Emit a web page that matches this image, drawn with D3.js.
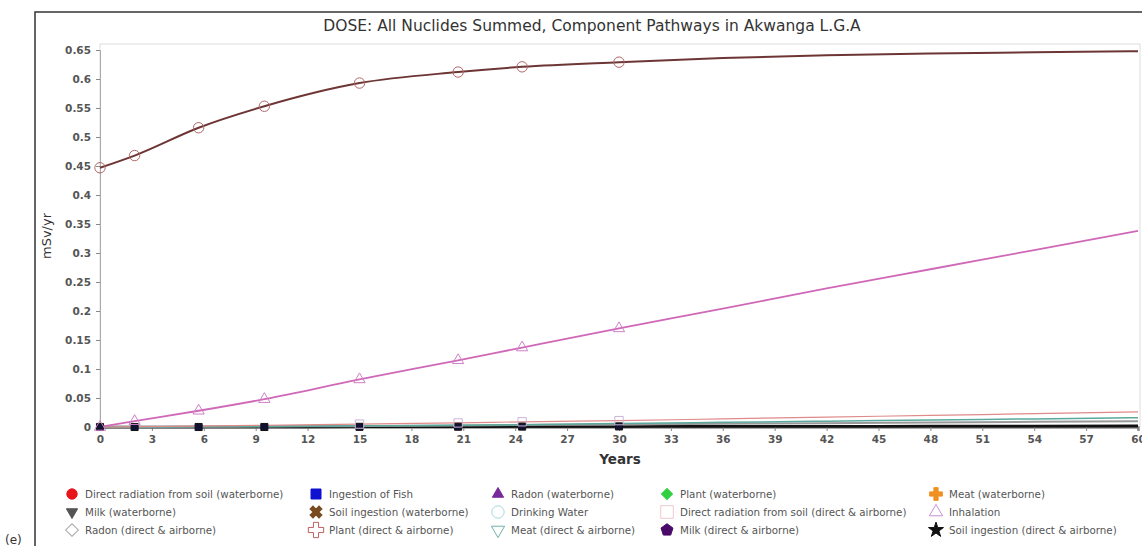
<!DOCTYPE html>
<html>
<head>
<meta charset="utf-8">
<script src="https://cdn.jsdelivr.net/npm/d3@7"></script>
<style>
  body { margin: 0; background: #fff; }
  text { font-family: "DejaVu Sans", sans-serif; }
</style>
</head>
<body>
<div id="chart"></div>
<script>
// years at which the curves are sampled
const years = [0, 2, 5.7, 9.5, 15, 20.7, 24.4, 30, 36, 42, 48, 54, 60];
// markers only shown up to 30 years
const markerCount = 8;

const totalDose = [0.447, 0.468, 0.516, 0.553, 0.593, 0.612, 0.621, 0.629, 0.636, 0.641, 0.644, 0.646, 0.648];
const inhalation = [0, 0.010, 0.028, 0.048, 0.082, 0.115, 0.137, 0.170, 0.204, 0.239, 0.272, 0.305, 0.338];
const directAir = [0, 0.0005, 0.0015, 0.003, 0.005, 0.007, 0.009, 0.011, 0.014, 0.017, 0.020, 0.023, 0.026];
const drinkingWater = [0, 0, 0.0005, 0.001, 0.002, 0.003, 0.004, 0.006, 0.008, 0.010, 0.012, 0.014, 0.016];
const plantAir = [0, 0, 0.0004, 0.0008, 0.0015, 0.0025, 0.0035, 0.0045, 0.0055, 0.0065, 0.0078, 0.009, 0.010];
const soilAir = [0, 0, 0, 0, 0.0003, 0.0005, 0.0007, 0.001, 0.0012, 0.0014, 0.0016, 0.0018, 0.002];

const xTicks = d3.range(0, 61, 3);
const yTicks = d3.range(0, 0.651, 0.05);

const legendLabels = [
  "Direct radiation from soil (waterborne)", "Ingestion of Fish", "Radon (waterborne)", "Plant (waterborne)", "Meat (waterborne)",
  "Milk (waterborne)", "Soil ingestion (waterborne)", "Drinking Water", "Direct radiation from soil (direct & airborne)", "Inhalation",
  "Radon (direct & airborne)", "Plant (direct & airborne)", "Meat (direct & airborne)", "Milk (direct & airborne)", "Soil ingestion (direct & airborne)"
];

const W = 1142, H = 546;
const m = { left: 100, top: 44, right: 1140, bottom: 427 };

const svg = d3.select("#chart").append("svg")
  .attr("width", W).attr("height", H);

// outer frame (top and left edges visible)
svg.append("path")
  .attr("d", `M35,${H} L35,12 L${W},12`)
  .attr("fill", "none").attr("stroke", "#333").attr("stroke-width", 1.5);

svg.append("text")
  .attr("x", 5).attr("y", 544)
  .attr("font-size", 12).attr("fill", "#333")
  .text("(e)");

svg.append("text")
  .attr("x", 592).attr("y", 31)
  .attr("text-anchor", "middle")
  .attr("font-size", 15.5).attr("fill", "#333")
  .text("DOSE: All Nuclides Summed, Component Pathways in Akwanga L.G.A");

const x = d3.scaleLinear().domain([0, 60]).range([m.left, 1138]);
const y = d3.scaleLinear().domain([0, 0.65]).range([m.bottom, 50]);

// plot box
svg.append("rect")
  .attr("x", m.left).attr("y", m.top)
  .attr("width", m.right - m.left).attr("height", m.bottom - m.top)
  .attr("fill", "none").attr("stroke", "#ddd");

const xAxis = d3.axisBottom(x).tickValues(xTicks).tickSize(4).tickFormat(d3.format("d"));
const yAxis = d3.axisLeft(y).tickValues(yTicks).tickSize(4).tickFormat(d => d === 0 ? "0" : d3.format(".2~f")(d));

const gy = svg.append("g").attr("transform", `translate(${m.left},0)`).call(yAxis);
const gx = svg.append("g").attr("transform", `translate(0,${m.bottom})`).call(xAxis);
gy.select(".domain").attr("stroke", "#aaa");
gx.select(".domain").attr("stroke", "#555").attr("stroke-width", 2);
[gx, gy].forEach(g => {
  g.selectAll(".tick line").attr("stroke", "#888");
  g.selectAll(".tick text").attr("font-size", 10.5).attr("font-weight", "bold").attr("fill", "#555");
});
gy.selectAll(".tick text").attr("x", -9);
gx.selectAll(".tick text").attr("y", 9);

svg.append("text")
  .attr("transform", "translate(51,236) rotate(-90)")
  .attr("text-anchor", "middle").attr("font-size", 13).attr("fill", "#333")
  .text("mSv/yr");

svg.append("text")
  .attr("x", 620).attr("y", 464)
  .attr("text-anchor", "middle").attr("font-size", 13.5).attr("font-weight", "bold").attr("fill", "#333")
  .text("Years");

const line = d3.line()
  .x((d, i) => x(years[i]))
  .y(d => y(d))
  .curve(d3.curveMonotoneX);

const series = [
  { values: soilAir, color: "#111", width: 2.5 },
  { values: plantAir, color: "#999", width: 2 },
  { values: drinkingWater, color: "#5aa99c", width: 1.5 },
  { values: directAir, color: "#e08a8a", width: 1.2 },
  { values: inhalation, color: "#d068b8", width: 1.8 },
  { values: totalDose, color: "#6e3535", width: 2 }
];

series.forEach(s => {
  svg.append("path")
    .datum(s.values)
    .attr("d", line)
    .attr("fill", "none")
    .attr("stroke", s.color)
    .attr("stroke-width", s.width);
});

// symbol helpers
const pentagon = {
  draw(ctx, size) {
    const r = Math.sqrt(size / 2.4);
    for (let i = 0; i < 5; i++) {
      const a = -Math.PI / 2 + i * 2 * Math.PI / 5;
      i === 0 ? ctx.moveTo(r * Math.cos(a), r * Math.sin(a)) : ctx.lineTo(r * Math.cos(a), r * Math.sin(a));
    }
    ctx.closePath();
  }
};
const sym = (type, size) => d3.symbol().type(type).size(size)();

function marker(g, type, size, fill, stroke, rotate) {
  return g.append("path")
    .attr("d", sym(type, size))
    .attr("transform", rotate ? `rotate(${rotate})` : null)
    .attr("fill", fill)
    .attr("stroke", stroke)
    .attr("stroke-width", 1);
}

const markerSets = [
  { values: soilAir, type: d3.symbolSquare, size: 50, fill: "#111133", stroke: "#111" },
  { values: directAir, type: d3.symbolSquare, size: 70, fill: "none", stroke: "#c8b4d8", from: 4 },
  { values: inhalation, type: d3.symbolTriangle, size: 55, fill: "none", stroke: "#d080c8" },
  { values: totalDose, type: d3.symbolCircle, size: 85, fill: "none", stroke: "#b06868" }
];

markerSets.forEach(ms => {
  ms.values.slice(0, markerCount).forEach((v, i) => {
    if (ms.from && i < ms.from) return;
    const g = svg.append("g").attr("transform", `translate(${x(years[i])},${y(v)})`);
    marker(g, ms.type, ms.size, ms.fill, ms.stroke);
  });
});

// legend
const legendSymbols = [
  { type: d3.symbolCircle, fill: "#e8141c", stroke: "#e8141c" },
  { type: d3.symbolSquare, fill: "#1010d0", stroke: "#1010d0" },
  { type: d3.symbolTriangle, fill: "#7a2a9a", stroke: "#7a2a9a" },
  { type: d3.symbolSquare, fill: "#30d040", stroke: "#30d040", rotate: 45 },
  { type: d3.symbolCross, fill: "#f09020", stroke: "#f09020" },
  { type: d3.symbolTriangle, fill: "#555", stroke: "#555", rotate: 180 },
  { type: d3.symbolCross, fill: "#7a4a20", stroke: "#7a4a20", rotate: 45 },
  { type: d3.symbolCircle, fill: "none", stroke: "#a8d8dc" },
  { type: d3.symbolSquare, fill: "none", stroke: "#f0c8d0" },
  { type: d3.symbolTriangle, fill: "none", stroke: "#c890d8" },
  { type: d3.symbolSquare, fill: "none", stroke: "#aaa", rotate: 45 },
  { type: d3.symbolCross, fill: "none", stroke: "#c06060" },
  { type: d3.symbolTriangle, fill: "none", stroke: "#70b0a8", rotate: 180 },
  { type: pentagon, fill: "#4a0a6a", stroke: "#4a0a6a" },
  { type: d3.symbolStar, fill: "#111", stroke: "#111" }
];
const legendSizes = [85, 100, 55, 60, 90, 55, 90, 120, 160, 75, 80, 130, 75, 95, 70];
const colX = [72, 316, 498, 667, 936];
const rowY = [494, 512, 530];

const legend = svg.append("g");
legendLabels.forEach((label, i) => {
  const col = i % 5, row = Math.floor(i / 5);
  const g = legend.append("g").attr("transform", `translate(${colX[col]},${rowY[row]})`);
  const s = legendSymbols[i];
  marker(g, s.type, legendSizes[i], s.fill, s.stroke, s.rotate);
  g.append("text")
    .attr("x", 13).attr("y", 3.5)
    .attr("font-size", 10.3).attr("fill", "#555")
    .text(label);
});
</script>
</body>
</html>
